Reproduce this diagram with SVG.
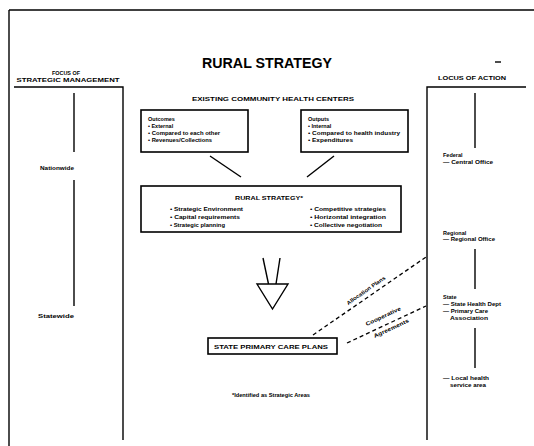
<svg xmlns="http://www.w3.org/2000/svg" width="534" height="446" viewBox="0 0 534 446">
<style>
.t{font-family:"Liberation Sans",Arial,sans-serif;font-weight:bold;fill:#000}
.box{fill:#fff;stroke:#000;stroke-width:1.6}
.ln{stroke:#000;stroke-width:1.4;fill:none}
.dash{stroke:#000;stroke-width:1.3;stroke-dasharray:4 3;fill:none}
.s{font-size:5.5px}
.m{font-size:6px}
</style>
<rect width="534" height="446" fill="#fff"/>
<g id="frame">
<line class="ln" x1="9" y1="10" x2="534" y2="10"/>
<line class="ln" x1="9" y1="10" x2="9" y2="446"/>
<line class="ln" x1="495" y1="62" x2="501" y2="62"/>
</g>
<text class="t" x="267" y="68" font-size="14" text-anchor="middle" textLength="130" lengthAdjust="spacingAndGlyphs">RURAL STRATEGY</text>
<g id="focus-column">
<text class="t s" x="66" y="75" text-anchor="middle" textLength="28" lengthAdjust="spacingAndGlyphs">FOCUS OF</text>
<text class="t s" x="68" y="82" text-anchor="middle" textLength="103" lengthAdjust="spacingAndGlyphs">STRATEGIC MANAGEMENT</text>
<polyline class="ln" points="14,87 123,87 123,440"/>
<line class="ln" x1="74" y1="93" x2="74" y2="152"/>
<text class="t s" x="74" y="170" text-anchor="end" textLength="34" lengthAdjust="spacingAndGlyphs">Nationwide</text>
<line class="ln" x1="74" y1="180" x2="74" y2="306"/>
<text class="t s" x="74" y="318" text-anchor="end" textLength="36" lengthAdjust="spacingAndGlyphs">Statewide</text>
</g>
<g id="locus-column">
<text class="t s" x="472" y="80" text-anchor="middle" textLength="68" lengthAdjust="spacingAndGlyphs">LOCUS OF ACTION</text>
<polyline class="ln" points="526,87 427,87 427,440"/>
<line class="ln" x1="475" y1="93" x2="475" y2="148"/>
<text class="t s" x="443" y="157">Federal</text>
<text class="t s" x="443" y="164" textLength="50" lengthAdjust="spacingAndGlyphs">— Central Office</text>
<text class="t s" x="443" y="235">Regional</text>
<text class="t s" x="443" y="241" textLength="52" lengthAdjust="spacingAndGlyphs">— Regional Office</text>
<line class="ln" x1="475" y1="249" x2="475" y2="289"/>
<text class="t s" x="443" y="299">State</text>
<text class="t s" x="443" y="306" textLength="58" lengthAdjust="spacingAndGlyphs">— State Health Dept</text>
<text class="t s" x="443" y="313" textLength="45" lengthAdjust="spacingAndGlyphs">— Primary Care</text>
<text class="t s" x="450" y="320" textLength="38" lengthAdjust="spacingAndGlyphs">Association</text>
<line class="ln" x1="475" y1="328" x2="475" y2="368"/>
<text class="t s" x="443" y="380" textLength="46" lengthAdjust="spacingAndGlyphs">— Local health</text>
<text class="t s" x="450" y="387" textLength="36" lengthAdjust="spacingAndGlyphs">service area</text>
</g>
<text class="t s" x="273" y="101" text-anchor="middle" textLength="162" lengthAdjust="spacingAndGlyphs">EXISTING COMMUNITY HEALTH CENTERS</text>
<g id="box-left">
<rect class="box" x="141" y="110" width="107" height="42"/>
<text class="t s" x="148" y="121">Outcomes</text>
<text class="t s" x="148" y="128">• External</text>
<text class="t s" x="148" y="135" textLength="72" lengthAdjust="spacingAndGlyphs">• Compared to each other</text>
<text class="t s" x="148" y="142" textLength="64" lengthAdjust="spacingAndGlyphs">• Revenues/Collections</text>
</g>
<g id="box-right">
<rect class="box" x="301" y="110" width="107" height="42"/>
<text class="t s" x="308" y="121">Outputs</text>
<text class="t s" x="308" y="128">• Internal</text>
<text class="t s" x="308" y="135" textLength="92" lengthAdjust="spacingAndGlyphs">• Compared to health industry</text>
<text class="t s" x="308" y="142" textLength="45" lengthAdjust="spacingAndGlyphs">• Expenditures</text>
</g>
<g id="box-rural">
<rect class="box" x="141" y="186" width="260" height="46"/>
<text class="t m" x="269" y="200" text-anchor="middle" textLength="68" lengthAdjust="spacingAndGlyphs">RURAL STRATEGY*</text>
<text class="t s" x="170" y="211" textLength="73" lengthAdjust="spacingAndGlyphs">• Strategic Environment</text>
<text class="t s" x="170" y="219" textLength="70" lengthAdjust="spacingAndGlyphs">• Capital requirements</text>
<text class="t s" x="170" y="227" textLength="55" lengthAdjust="spacingAndGlyphs">• Strategic planning</text>
<text class="t s" x="310" y="211" textLength="76" lengthAdjust="spacingAndGlyphs">• Competitive strategies</text>
<text class="t s" x="310" y="219" textLength="76" lengthAdjust="spacingAndGlyphs">• Horizontal integration</text>
<text class="t s" x="310" y="227" textLength="72" lengthAdjust="spacingAndGlyphs">• Collective negotiation</text>
</g>
<g id="box-plans">
<rect class="box" x="208" y="338" width="129" height="16"/>
<text class="t m" x="271" y="348.5" text-anchor="middle" textLength="114" lengthAdjust="spacingAndGlyphs">STATE PRIMARY CARE PLANS</text>
</g>
<g id="connectors">
<line class="ln" x1="210" y1="156" x2="241" y2="177"/>
<line class="ln" x1="334" y1="156" x2="307" y2="177"/>
<line class="ln" x1="263" y1="258" x2="268.5" y2="284"/>
<line class="ln" x1="280" y1="258" x2="276" y2="284"/>
<polygon class="ln" points="257,284 288,284 272.5,309" fill="#fff"/>
<line class="dash" x1="313" y1="335" x2="426" y2="257"/>
<line class="dash" x1="347" y1="343" x2="426" y2="306"/>
<text class="t s" x="367" y="292" text-anchor="middle" transform="rotate(-35 367 292)" textLength="46" lengthAdjust="spacingAndGlyphs">Allocation Plans</text>
<text class="t s" x="384" y="318" text-anchor="middle" transform="rotate(-25 384 318)" textLength="38" lengthAdjust="spacingAndGlyphs">Cooperative</text>
<text class="t s" x="392" y="330" text-anchor="middle" transform="rotate(-25 392 330)" textLength="38" lengthAdjust="spacingAndGlyphs">Agreements</text>
</g>
<text class="t" x="271" y="397" font-size="4.5" text-anchor="middle" textLength="78" lengthAdjust="spacingAndGlyphs">*Identified as Strategic Areas</text>
</svg>
